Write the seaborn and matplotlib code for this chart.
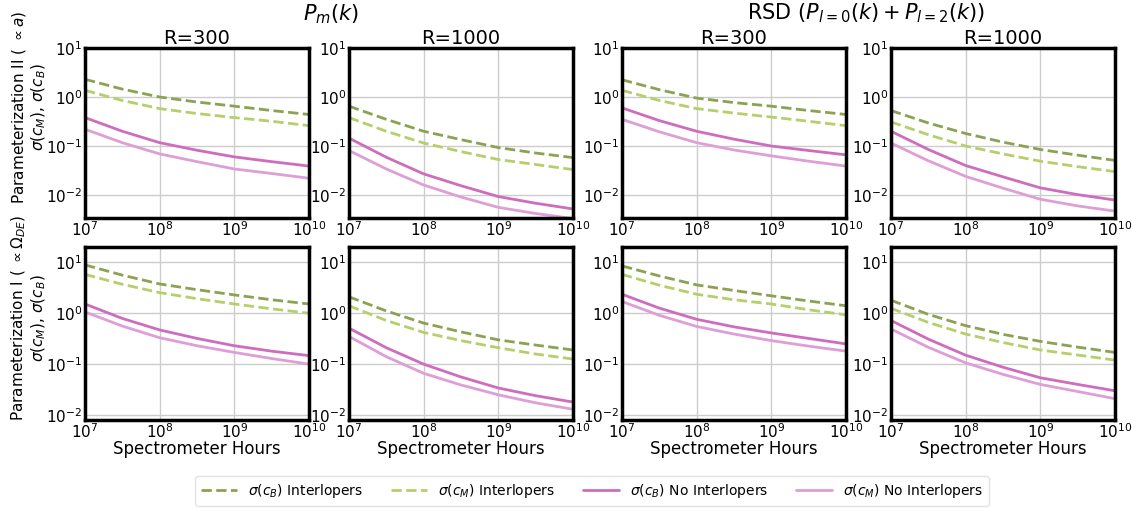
import numpy as np
import pandas as pd
import matplotlib
matplotlib.use("Agg")
import matplotlib.pyplot as plt
import seaborn as sns

# ---- data ----
hours = [1e7, 10**7.5, 1e8, 10**8.5, 1e9, 10**9.5, 1e10]

# Parameterization II (top row)
pm300_II_cB_int = [2.3, 1.45, 1.0, 0.79, 0.65, 0.53, 0.44]
pm300_II_cM_int = [1.37, 0.85, 0.58, 0.46, 0.38, 0.32, 0.26]
pm300_II_cB_no = [0.38, 0.20, 0.117, 0.082, 0.060, 0.048, 0.039]
pm300_II_cM_no = [0.22, 0.117, 0.069, 0.048, 0.034, 0.0275, 0.022]

pm1000_II_cB_int = [0.65, 0.35, 0.20, 0.135, 0.093, 0.072, 0.058]
pm1000_II_cM_int = [0.38, 0.20, 0.115, 0.077, 0.053, 0.042, 0.033]
pm1000_II_cB_no = [0.145, 0.059, 0.027, 0.0155, 0.0093, 0.0068, 0.0052]
pm1000_II_cM_no = [0.081, 0.034, 0.016, 0.0091, 0.0056, 0.0042, 0.0033]

rsd300_II_cB_int = [2.25, 1.41, 0.95, 0.77, 0.65, 0.53, 0.44]
rsd300_II_cM_int = [1.37, 0.85, 0.58, 0.47, 0.39, 0.32, 0.26]
rsd300_II_cB_no = [0.60, 0.33, 0.20, 0.138, 0.10, 0.081, 0.066]
rsd300_II_cM_no = [0.35, 0.195, 0.117, 0.083, 0.063, 0.049, 0.039]

rsd1000_II_cB_int = [0.53, 0.295, 0.18, 0.12, 0.085, 0.065, 0.051]
rsd1000_II_cM_int = [0.31, 0.17, 0.10, 0.069, 0.049, 0.038, 0.030]
rsd1000_II_cB_no = [0.20, 0.085, 0.040, 0.0235, 0.014, 0.0102, 0.0079]
rsd1000_II_cM_no = [0.115, 0.050, 0.024, 0.0138, 0.0082, 0.006, 0.0047]

# Parameterization I (bottom row)
pm300_I_cB_int = [8.9, 5.6, 3.76, 2.9, 2.29, 1.84, 1.52]
pm300_I_cM_int = [5.8, 3.7, 2.54, 1.93, 1.52, 1.22, 1.0]
pm300_I_cB_no = [1.52, 0.79, 0.47, 0.32, 0.23, 0.18, 0.147]
pm300_I_cM_no = [1.06, 0.56, 0.33, 0.23, 0.17, 0.129, 0.10]

pm1000_I_cB_int = [2.1, 1.11, 0.64, 0.43, 0.30, 0.237, 0.19]
pm1000_I_cM_int = [1.4, 0.72, 0.42, 0.29, 0.21, 0.158, 0.126]
pm1000_I_cB_no = [0.51, 0.21, 0.10, 0.056, 0.034, 0.024, 0.018]
pm1000_I_cM_no = [0.35, 0.14, 0.066, 0.039, 0.025, 0.0174, 0.013]

rsd300_I_cB_int = [8.5, 5.4, 3.6, 2.8, 2.2, 1.74, 1.4]
rsd300_I_cM_int = [5.8, 3.55, 2.36, 1.84, 1.52, 1.17, 0.93]
rsd300_I_cB_no = [2.36, 1.26, 0.76, 0.54, 0.41, 0.32, 0.25]
rsd300_I_cM_no = [1.7, 0.91, 0.55, 0.39, 0.29, 0.226, 0.18]

rsd1000_I_cB_int = [1.8, 0.95, 0.57, 0.385, 0.28, 0.216, 0.17]
rsd1000_I_cM_int = [1.25, 0.66, 0.39, 0.266, 0.19, 0.151, 0.12]
rsd1000_I_cB_no = [0.72, 0.31, 0.15, 0.087, 0.054, 0.040, 0.030]
rsd1000_I_cM_no = [0.49, 0.214, 0.106, 0.063, 0.040, 0.029, 0.021]

series_labels = [r"$\sigma(c_B)$ Interlopers", r"$\sigma(c_M)$ Interlopers",
                 r"$\sigma(c_B)$ No Interlopers", r"$\sigma(c_M)$ No Interlopers"]
panel_titles = ["R=300", "R=1000", "R=300", "R=1000"]
group_titles = [r"$P_m(k)$", r"RSD $(P_{l=0}(k) + P_{l=2}(k))$"]
row_labels = [r"Parameterization II ( $\propto a$)" + "\n" + r"$\sigma(c_M)$, $\sigma(c_B)$",
              r"Parameterization I ( $\propto \Omega_{DE}$)" + "\n" + r"$\sigma(c_M)$, $\sigma(c_B)$"]
xlabel_text = "Spectrometer Hours"
xtick_vals = [1e7, 1e8, 1e9, 1e10]
ytick_vals = [1e-2, 1e-1, 1e0, 1e1]

top_row = [
    [pm300_II_cB_int, pm300_II_cM_int, pm300_II_cB_no, pm300_II_cM_no],
    [pm1000_II_cB_int, pm1000_II_cM_int, pm1000_II_cB_no, pm1000_II_cM_no],
    [rsd300_II_cB_int, rsd300_II_cM_int, rsd300_II_cB_no, rsd300_II_cM_no],
    [rsd1000_II_cB_int, rsd1000_II_cM_int, rsd1000_II_cB_no, rsd1000_II_cM_no],
]
bottom_row = [
    [pm300_I_cB_int, pm300_I_cM_int, pm300_I_cB_no, pm300_I_cM_no],
    [pm1000_I_cB_int, pm1000_I_cM_int, pm1000_I_cB_no, pm1000_I_cM_no],
    [rsd300_I_cB_int, rsd300_I_cM_int, rsd300_I_cB_no, rsd300_I_cM_no],
    [rsd1000_I_cB_int, rsd1000_I_cM_int, rsd1000_I_cB_no, rsd1000_I_cM_no],
]

# ---- style ----
sns.set_theme(style="whitegrid")
plt.rcParams["font.family"] = ["DejaVu Sans"]
plt.rcParams["mathtext.fontset"] = "dejavusans"
plt.rcParams["text.color"] = "black"
plt.rcParams["axes.labelcolor"] = "black"
plt.rcParams["xtick.color"] = "black"
plt.rcParams["ytick.color"] = "black"

colors = ["#8ca252", "#b5cf6b", "#ce6dbd", "#de9ed6"]
styles = ["--", "--", "-", "-"]

W, H = 1132, 508
fig = plt.figure(figsize=(W / 100, H / 100), dpi=100)

lefts = [85, 349, 622, 891]
width = 224
rows = [(48, 218, (3.4e-3, 10)), (247, 420, (8e-3, 20))]
ylabel_centers = [107, 318]

handles, labels = None, None
for r, (ytop, ybot, ylim) in enumerate(rows):
    data_row = top_row if r == 0 else bottom_row
    for c, left in enumerate(lefts):
        ax = fig.add_axes([left / W, 1 - ybot / H, width / W, (ybot - ytop) / H])
        for s in range(4):
            df = pd.DataFrame({"hours": hours, "sigma": data_row[c][s]})
            sns.lineplot(data=df, x="hours", y="sigma", ax=ax, color=colors[s],
                         linestyle=styles[s], linewidth=2.0, label=series_labels[s],
                         legend=False)
        ax.set_xscale("log")
        ax.set_yscale("log")
        ax.set_xlim(1e7, 1e10)
        ax.set_ylim(*ylim)
        ax.set_xticks(xtick_vals)
        ax.set_yticks(ytick_vals)
        ax.minorticks_off()
        ax.tick_params(axis="both", labelsize=11, length=0, pad=2, labelcolor="black")
        ax.grid(True, color="#cccccc", linewidth=1.0)
        for sp in ax.spines.values():
            sp.set_color("black")
            sp.set_linewidth(2.5)
        ax.set_xlabel(xlabel_text if r == 1 else "", fontsize=12, labelpad=-1)
        ax.set_ylabel("")
        if r == 0:
            ax.set_title(panel_titles[c], fontsize=14, pad=3)
        if r == 0 and c == 0:
            handles, labels = ax.get_legend_handles_labels()
    fig.text(29 / W, 1 - ylabel_centers[r] / H, row_labels[r], rotation=90,
             ha="center", va="center", multialignment="center", fontsize=11,
             linespacing=1.15)

fig.text(331 / W, 1 - 14 / H, group_titles[0], ha="center", va="center", fontsize=15)
fig.text(866 / W, 1 - 13 / H, group_titles[1], ha="center", va="center", fontsize=15)

leg = fig.legend(handles, labels, loc="center", bbox_to_anchor=(592 / W, 1 - 491 / H),
                 ncol=4, fontsize=10, frameon=True, columnspacing=2.0, handlelength=2.6)
leg.get_frame().set_edgecolor("#dddddd")

fig.savefig("out.png", dpi=100)
